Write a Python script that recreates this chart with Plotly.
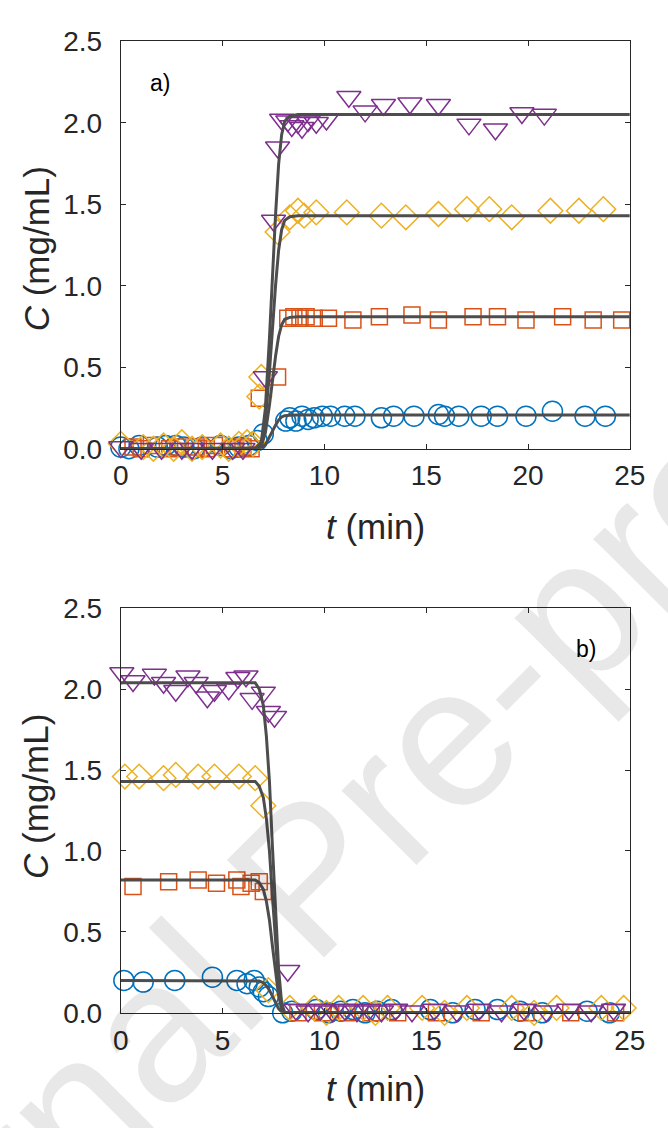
import plotly.graph_objects as go

# ---------------- Panel a) data (step up) ----------------
a_blue_t = [0.0, 0.4, 0.9, 1.3, 1.8, 2.2, 2.7, 3.1, 3.6, 4.0, 4.5, 4.9, 5.4, 5.8, 6.3, 6.7, 7.0,
            8.1, 8.3, 8.6, 8.9, 9.2, 9.5, 9.9, 10.3, 11.0, 11.5, 12.8, 13.4, 14.4, 15.6, 15.9,
            16.6, 17.7, 18.5, 19.9, 21.2, 22.8, 23.8]
a_blue_c = [0.01, 0.0, 0.02, -0.01, 0.01, 0.02, 0.02, 0.01, 0.0, 0.01, -0.01, 0.02, 0.0, 0.01, 0.02, 0.05, 0.09,
            0.17, 0.19, 0.17, 0.2, 0.18, 0.19, 0.2, 0.2, 0.2, 0.2, 0.19, 0.2, 0.2, 0.21, 0.2,
            0.2, 0.2, 0.2, 0.2, 0.23, 0.2, 0.2]

a_orange_t = [0.1, 0.6, 1.0, 1.5, 1.9, 2.4, 2.8, 3.3, 3.7, 4.2, 4.6, 5.1, 5.5, 6.0, 6.4, 6.8, 7.7,
              8.2, 8.5, 8.8, 9.1, 9.5, 10.2, 11.4, 12.7, 14.3, 15.6, 17.3, 18.5, 19.9, 21.7, 23.2, 24.6]
a_orange_c = [-0.01, 0.01, 0.0, 0.02, -0.01, 0.0, 0.01, -0.01, 0.01, 0.0, 0.02, -0.01, 0.0, 0.01, 0.0, 0.31, 0.44,
              0.8, 0.81, 0.8, 0.81, 0.8, 0.8, 0.79, 0.81, 0.82, 0.79, 0.81, 0.81, 0.79, 0.81, 0.79, 0.79]

a_yellow_t = [0.0, 0.5, 1.1, 1.6, 2.1, 2.6, 3.0, 3.5, 4.0, 4.4, 4.9, 5.3, 5.8, 6.2, 6.5, 6.8, 6.9,
              7.7, 8.3, 8.7, 9.0, 9.6, 11.1, 12.8, 14.0, 15.6, 17.0, 18.1, 19.2, 21.1, 22.5, 23.7]
a_yellow_c = [0.03, -0.01, 0.01, 0.0, 0.02, 0.0, 0.04, 0.0, 0.01, -0.01, 0.02, 0.0, 0.03, 0.04, 0.03, 0.32, 0.44,
              1.33, 1.42, 1.46, 1.43, 1.45, 1.45, 1.43, 1.42, 1.44, 1.47, 1.47, 1.42, 1.46, 1.46, 1.47]

a_purple_t = [0.0, 0.5, 1.0, 1.5, 2.0, 2.5, 3.0, 3.5, 4.0, 4.5, 5.0, 5.5, 6.0, 6.4, 7.1,
              7.5, 7.7, 7.9, 8.2, 8.4, 8.7, 8.9, 9.2, 9.6, 10.1, 11.2, 12.0, 12.9, 14.2, 15.6,
              17.1, 18.4, 19.7, 20.8]
a_purple_c = [0.01, -0.01, 0.0, -0.01, 0.0, -0.01, 0.0, 0.0, -0.01, 0.0, -0.01, 0.0, 0.0, -0.01, 0.44,
              1.4, 1.85, 2.02, 2.01, 1.98, 2.0, 1.97, 2.01, 2.0, 2.02, 2.16, 2.07, 2.11, 2.12, 2.11,
              1.99, 1.96, 2.06, 2.05]

a_fit_t = [0, 6.6, 6.9, 7.1, 7.3, 7.45, 7.6, 7.75, 7.9, 8.05, 8.3, 8.7, 25]
a_fit_blue = [0, 0, 0.004, 0.025, 0.068, 0.108, 0.145, 0.176, 0.195, 0.203, 0.206, 0.207, 0.207]
a_fit_orange = [0, 0, 0.016, 0.097, 0.267, 0.421, 0.567, 0.689, 0.761, 0.794, 0.806, 0.81, 0.81]
a_fit_yellow = [0, 0, 0.029, 0.172, 0.472, 0.744, 1.001, 1.216, 1.344, 1.401, 1.423, 1.43, 1.43]
a_fit_purple = [0, 0, 0.041, 0.246, 0.677, 1.066, 1.435, 1.743, 1.927, 2.009, 2.040, 2.05, 2.05]

# ---------------- Panel b) data (step down) ----------------
b_blue_t = [0.15, 1.1, 2.65, 4.5, 5.7, 6.2, 6.55, 6.8, 7.0, 7.25, 7.95,
            8.4, 9.0, 9.6, 10.2, 10.8, 11.4, 12.0, 12.6, 13.3, 14.1, 15.2, 16.3, 17.4, 18.5,
            19.6, 20.7, 21.8, 22.9, 24.0]
b_blue_c = [0.2, 0.19, 0.2, 0.22, 0.2, 0.18, 0.2, 0.16, 0.13, 0.1, 0.0,
            0.01, -0.01, 0.02, 0.0, 0.01, 0.02, 0.0, 0.01, 0.02, -0.01, 0.02, 0.0, 0.02, 0.02,
            0.01, 0.0, -0.01, 0.01, 0.0]

b_orange_t = [0.6, 2.35, 3.8, 4.7, 5.7, 5.9, 6.4, 6.8, 7.0,
              8.2, 8.7, 9.3, 9.9, 10.5, 11.1, 11.7, 12.3, 12.9, 13.6, 14.4, 15.5, 16.6, 17.7,
              18.8, 19.9, 21.0, 22.1, 23.2, 24.3]
b_orange_c = [0.78, 0.81, 0.82, 0.8, 0.82, 0.78, 0.8, 0.81, 0.75,
              -0.01, 0.0, -0.02, 0.0, -0.01, 0.0, -0.02, 0.0, -0.01, 0.0, -0.01, 0.0, -0.01, 0.0,
              -0.01, 0.0, -0.01, 0.0, -0.01, 0.0]

b_yellow_t = [0.2, 0.9, 2.1, 2.7, 3.8, 4.6, 5.8, 6.6, 7.0, 7.25,
              8.3, 8.9, 9.5, 10.1, 10.7, 11.3, 11.9, 12.5, 13.1, 13.8, 14.8, 15.9, 17.0,
              18.1, 19.2, 20.3, 21.4, 22.5, 23.6, 24.7]
b_yellow_c = [1.46, 1.46, 1.45, 1.47, 1.46, 1.46, 1.46, 1.45, 1.28, 0.14,
              0.03, -0.02, 0.03, 0.0, 0.03, -0.02, 0.03, 0.0, 0.03, -0.02, 0.03, 0.0, 0.03,
              -0.02, 0.03, 0.0, 0.03, -0.02, 0.03, 0.03]

b_purple_t = [0.05, 0.6, 1.65, 2.1, 2.7, 3.3, 3.7, 4.25, 4.6, 5.3, 5.75, 6.15, 6.45, 7.0, 7.25, 7.55, 8.2,
              8.6, 9.2, 9.8, 10.4, 11.0, 11.6, 12.2, 12.8, 13.5, 14.3, 15.4, 16.5, 17.6, 18.7,
              19.8, 20.9, 22.0, 23.1, 24.2, 25.1]
b_purple_c = [2.1, 2.05, 2.09, 2.04, 1.99, 2.08, 2.04, 1.95, 1.99, 2.0, 2.07, 2.08, 1.94, 1.98, 1.86, 1.83, 0.26,
              0.02, 0.01, 0.02, 0.01, 0.02, 0.01, 0.02, 0.01, 0.02, 0.01, 0.02, 0.01, 0.02, 0.01,
              0.02, 0.01, 0.02, 0.01, 0.02, 0.02]

b_fit_t = [0, 6.6, 6.8, 7.0, 7.15, 7.3, 7.45, 7.6, 7.75, 7.9, 8.05, 25]
b_fit_blue = [0.2, 0.2, 0.196, 0.186, 0.168, 0.14, 0.1, 0.06, 0.026, 0.006, 0, 0]
b_fit_orange = [0.82, 0.82, 0.804, 0.763, 0.689, 0.574, 0.41, 0.246, 0.107, 0.025, 0, 0]
b_fit_yellow = [1.43, 1.43, 1.40, 1.33, 1.20, 1.00, 0.715, 0.43, 0.186, 0.043, 0, 0]
b_fit_purple = [2.04, 2.04, 2.0, 1.90, 1.71, 1.43, 1.02, 0.61, 0.27, 0.06, 0, 0]

x_ticks = [0, 5, 10, 15, 20, 25]
y_ticks = [0.0, 0.5, 1.0, 1.5, 2.0, 2.5]

BLUE, ORANGE, YELLOW, PURPLE = "#0072BD", "#D95319", "#EDB120", "#7E2F8E"
FIT = "#4D4D4D"
FONT = "Liberation Sans, Arial, sans-serif"

fig = go.Figure()

def add_panel(xa, ya, series, fits, fit_t):
    for t, c, col, sym, size in series:
        fig.add_trace(go.Scatter(x=t, y=c, mode="markers", xaxis=xa, yaxis=ya,
                                 cliponaxis=False, showlegend=False,
                                 marker=dict(symbol=sym, size=size, color=col,
                                             line=dict(color=col, width=1.5))))
    for f in fits:
        fig.add_trace(go.Scatter(x=fit_t, y=f, mode="lines", xaxis=xa, yaxis=ya,
                                 showlegend=False, line=dict(color=FIT, width=3)))

add_panel("x", "y",
          [(a_blue_t, a_blue_c, BLUE, "circle-open", 20),
           (a_orange_t, a_orange_c, ORANGE, "square-open", 16),
           (a_yellow_t, a_yellow_c, YELLOW, "diamond-open", 19),
           (a_purple_t, a_purple_c, PURPLE, "triangle-down-open", 21)],
          [a_fit_blue, a_fit_orange, a_fit_yellow, a_fit_purple], a_fit_t)
add_panel("x2", "y2",
          [(b_blue_t, b_blue_c, BLUE, "circle-open", 20),
           (b_orange_t, b_orange_c, ORANGE, "square-open", 16),
           (b_yellow_t, b_yellow_c, YELLOW, "diamond-open", 19),
           (b_purple_t, b_purple_c, PURPLE, "triangle-down-open", 21)],
          [b_fit_blue, b_fit_orange, b_fit_yellow, b_fit_purple], b_fit_t)

W, H = 668, 1128
xdom = [117 / W, 645 / W]
ya_dom = [1 - 446 / H, 1 - 27 / H]
yb_dom = [1 - 1026 / H, 1 - 610 / H]

axcommon = dict(showline=True, linecolor="#262626", linewidth=1.2, mirror="allticks",
                ticks="inside", ticklen=5, tickcolor="#262626", showgrid=False, zeroline=False,
                tickfont=dict(family=FONT, size=28, color="#262626"))

fig.update_layout(
    width=W, height=H, margin=dict(l=0, r=0, t=0, b=0),
    paper_bgcolor="white", plot_bgcolor="white",
    xaxis=dict(domain=xdom, anchor="y", range=[0, 25], tickvals=x_ticks,
               ticklabelstandoff=2, **axcommon),
    yaxis=dict(domain=ya_dom, anchor="x", range=[0, 2.5], tickvals=y_ticks,
               tickformat=".1f", ticklabelstandoff=12, **axcommon),
    xaxis2=dict(domain=xdom, anchor="y2", range=[0, 25], tickvals=x_ticks,
                ticklabelstandoff=2, **axcommon),
    yaxis2=dict(domain=yb_dom, anchor="x2", range=[0, 2.5], tickvals=y_ticks,
                tickformat=".1f", ticklabelstandoff=12, **axcommon),
)

ann = []
lab = dict(family=FONT, size=35, color="#262626")
ann.append(dict(text="<i>t</i> (min)", x=381 / W, y=1 - 526 / H, xref="paper", yref="paper",
                showarrow=False, font=lab, xanchor="center", yanchor="middle"))
ann.append(dict(text="<i>t</i> (min)", x=381 / W, y=1 - 1104 / H, xref="paper", yref="paper",
                showarrow=False, font=lab, xanchor="center", yanchor="middle"))
ann.append(dict(text="<i>C</i> (mg/mL)", x=29 / W, y=1 - 240 / H, xref="paper", yref="paper",
                showarrow=False, font=lab, xanchor="center", yanchor="middle", textangle=-90))
ann.append(dict(text="<i>C</i> (mg/mL)", x=29 / W, y=1 - 803 / H, xref="paper", yref="paper",
                showarrow=False, font=lab, xanchor="center", yanchor="middle", textangle=-90))
ann.append(dict(text="a)", x=158 / W, y=1 - 70 / H, xref="paper", yref="paper",
                showarrow=False, font=dict(family=FONT, size=23, color="black"),
                xanchor="center", yanchor="middle"))
ann.append(dict(text="b)", x=600 / W, y=1 - 652 / H, xref="paper", yref="paper",
                showarrow=False, font=dict(family=FONT, size=23, color="black"),
                xanchor="center", yanchor="middle"))
ann.append(dict(text="Journal Pre-proof", x=310 / W, y=1 - 886 / H, xref="paper", yref="paper",
                showarrow=False, font=dict(family="Liberation Sans, Arial", size=200,
                                           color="rgba(0,0,0,0.09)"),
                xanchor="center", yanchor="middle", textangle=-45))
fig.update_layout(annotations=ann)

fig.write_html("out.html")
